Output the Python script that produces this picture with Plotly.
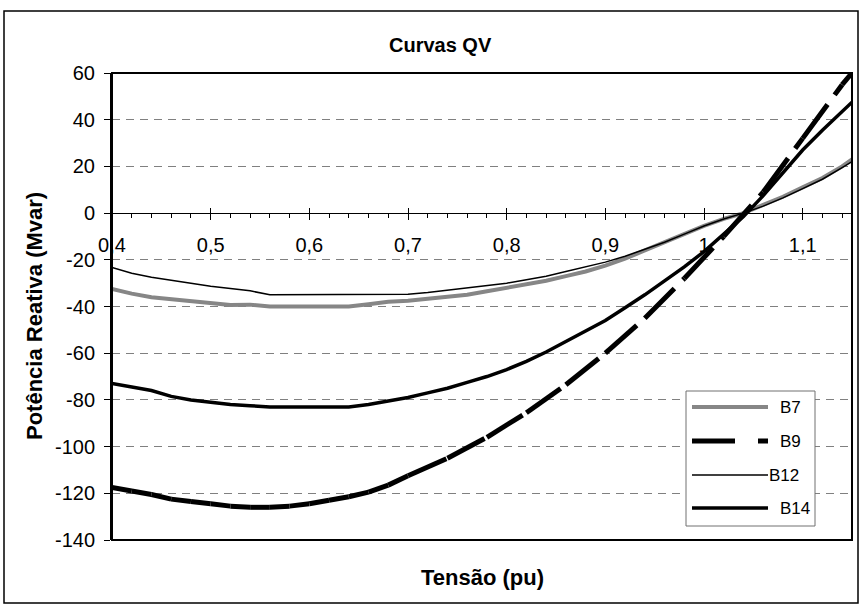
import plotly.graph_objects as go

# ---- data -------------------------------------------------------------
tensao = [0.40, 0.42, 0.44, 0.46, 0.48, 0.50, 0.52, 0.54, 0.56, 0.58,
          0.60, 0.62, 0.64, 0.66, 0.68, 0.70, 0.72, 0.74, 0.76, 0.78,
          0.80, 0.82, 0.84, 0.86, 0.88, 0.90, 0.92, 0.94, 0.96, 0.98,
          1.00, 1.02, 1.04, 1.06, 1.08, 1.10, 1.12, 1.14, 1.15]

b7 = [-32.5, -34.5, -36.0, -36.8, -37.6, -38.5, -39.4, -39.2, -40.0, -40.0,
      -40.0, -40.0, -40.0, -39.0, -38.0, -37.5, -36.8, -36.0, -35.0, -33.5,
      -32.0, -30.5, -29.0, -27.0, -25.0, -22.5, -19.5, -16.0, -12.5, -9.0,
      -5.5, -2.5, 0.0, 3.5, 7.0, 11.0, 15.0, 20.0, 23.0]

b12 = [-23.3, -25.8, -27.5, -28.9, -30.0, -31.3, -32.3, -33.3, -35.0, -35.0,
       -35.0, -35.0, -35.0, -35.0, -35.0, -34.8, -34.0, -33.0, -32.0, -31.0,
       -30.0, -28.5, -27.0, -25.0, -23.0, -21.0, -18.5, -15.5, -12.5, -9.0,
       -5.5, -2.5, 0.0, 3.0, 6.5, 10.5, 14.5, 19.5, 22.0]

b14 = [-73.0, -74.5, -76.0, -78.5, -80.0, -81.0, -82.0, -82.5, -83.0, -83.0,
       -83.0, -83.0, -83.0, -82.0, -80.5, -79.0, -77.0, -75.0, -72.5, -70.0,
       -67.0, -63.5, -59.5, -55.0, -50.5, -46.0, -40.5, -35.0, -29.0, -23.0,
       -16.5, -9.0, -1.5, 7.5, 17.5, 27.0, 35.5, 43.5, 47.5]

# B9 was sampled more sparsely on its steep branch
tensao_b9 = [0.40, 0.42, 0.44, 0.46, 0.48, 0.50, 0.52, 0.54, 0.56, 0.58,
             0.60, 0.62, 0.64, 0.66, 0.68, 0.70, 0.74, 0.78, 0.82, 0.86,
             0.90, 0.94, 0.98, 1.02, 1.06, 1.10, 1.14, 1.15]
b9 = [-117.5, -119.0, -120.5, -122.5, -123.5, -124.5, -125.5, -126.0, -126.0, -125.5,
      -124.5, -123.0, -121.5, -119.5, -116.5, -112.5, -105.0, -96.0, -85.5, -73.5,
      -60.0, -45.0, -28.0, -10.0, 9.0, 32.0, 55.0, 60.0]

series_names = ["B7", "B9", "B12", "B14"]
x_ticks = [0.4, 0.5, 0.6, 0.7, 0.8, 0.9, 1.0, 1.1]
x_tick_text = ["0,4", "0,5", "0,6", "0,7", "0,8", "0,9", "1", "1,1"]
y_ticks = [-140, -120, -100, -80, -60, -40, -20, 0, 20, 40, 60]
y_tick_text = ["-140", "-120", "-100", "-80", "-60", "-40", "-20", "0", "20", "40", "60"]

# ---- geometry helpers (pixels -> paper) --------------------------------
W, H = 862, 607
L, R, T, B = 112, 852, 73, 540
def px(xp):
    return (xp - L) / (R - L)
def py(yp):
    return (B - yp) / (B - T)

FONT = "Liberation Sans, Arial, sans-serif"

styles = {
    "B7": dict(color="#868686", width=4),
    "B9": dict(color="black", width=5),
    "B12": dict(color="black", width=1.5),
    "B14": dict(color="black", width=3.5),
}
B9_DASH_PLOT = "42px,12px"
B9_DASH_LEGEND = "43px,23px"

fig = go.Figure()

fig.add_trace(go.Scatter(x=tensao, y=b7, mode="lines", name="B7",
                         line=styles["B7"], showlegend=False))
# B9: each segment is stroked on its own, so the dash pattern restarts at
# every data point (as the original spreadsheet chart does)
for i in range(len(tensao_b9) - 1):
    fig.add_trace(go.Scatter(x=tensao_b9[i:i + 2], y=b9[i:i + 2], mode="lines",
                             name="B9", legendgroup="B9", showlegend=False,
                             line=dict(color="black", width=5, dash=B9_DASH_PLOT)))
fig.add_trace(go.Scatter(x=tensao, y=b12, mode="lines", name="B12",
                         line=styles["B12"], showlegend=False))
fig.add_trace(go.Scatter(x=tensao, y=b14, mode="lines", name="B14",
                         line=styles["B14"], showlegend=False))

# invisible trace for the overlaid x axis (inner halves of major ticks)
fig.add_trace(go.Scatter(x=[tensao[0]], y=[b7[0]], xaxis="x2", mode="none",
                         showlegend=False, hoverinfo="skip"))

fig.update_layout(
    width=W, height=H,
    margin=dict(l=L, r=W - R, t=T, b=H - B),
    paper_bgcolor="white", plot_bgcolor="white",
    font=dict(family=FONT, size=20, color="black"),
    xaxis=dict(range=[0.4, 1.15], anchor="free", position=0.7,
               tickvals=x_ticks, ticktext=x_tick_text,
               ticks="outside", ticklen=6, tickwidth=1,
               tickcolor="black", showline=True, linecolor="black", linewidth=1,
               showgrid=False, zeroline=False, ticklabelstandoff=8,
               tickfont=dict(size=20),
               minor=dict(dtick=0.02, ticks="outside", ticklen=4,
                          tickcolor="black", tickwidth=1, showgrid=False)),
    xaxis2=dict(range=[0.4, 1.15], anchor="free", position=0.7, overlaying="x",
                tickvals=x_ticks, ticks="inside", ticklen=5, tickwidth=1,
                tickcolor="black", showticklabels=False, showline=False,
                showgrid=False, zeroline=False),
    yaxis=dict(range=[-140, 60], tickvals=y_ticks, ticktext=y_tick_text,
               ticks="outside", ticklen=6,
               tickcolor="black", showline=True, linecolor="black", linewidth=2,
               showgrid=True, gridcolor="#808080", gridwidth=1, griddash="8px,6px",
               zeroline=False, ticklabelstandoff=5, tickfont=dict(size=20)),
    hovermode="closest",
)

shapes = []
# outer chart border
shapes.append(dict(type="rect", xref="paper", yref="paper",
                   x0=px(4), x1=px(858), y0=py(603), y1=py(11),
                   line=dict(color="black", width=1.5), layer="below"))
# plot area border
shapes.append(dict(type="rect", xref="paper", yref="paper",
                   x0=0, x1=1, y0=0, y1=1,
                   line=dict(color="black", width=2), layer="above"))

# legend box
shapes.append(dict(type="rect", xref="paper", yref="paper",
                   x0=px(686), x1=px(815), y0=py(526), y1=py(391),
                   fillcolor="white", line=dict(color="#707070", width=1),
                   layer="above"))
leg_y = [407, 441, 475, 508]
leg_text_x = [778, 778, 767, 778]
annotations = []
for name, yy, tx in zip(series_names, leg_y, leg_text_x):
    st = styles[name]
    ln = dict(color=st["color"], width=st["width"])
    if name == "B9":
        ln["dash"] = B9_DASH_LEGEND
    shapes.append(dict(type="line", xref="paper", yref="paper",
                       x0=px(692), x1=px(768), y0=py(yy), y1=py(yy),
                       line=ln, layer="above"))
    annotations.append(dict(text=name, xref="paper", yref="paper",
                            x=px(tx), y=py(yy), xanchor="left", yanchor="middle",
                            showarrow=False, font=dict(size=17, family=FONT)))

annotations.append(dict(text="<b>Curvas QV</b>", xref="paper", yref="paper",
                        x=px(440), y=py(45), xanchor="center", yanchor="middle",
                        showarrow=False, font=dict(size=20, family=FONT)))
annotations.append(dict(text="<b>Potência Reativa (Mvar)</b>", xref="paper",
                        yref="paper", x=px(34), y=py(316), textangle=-90,
                        xanchor="center", yanchor="middle", showarrow=False,
                        font=dict(size=22, family=FONT)))
annotations.append(dict(text="<b>Tensão (pu)</b>", xref="paper", yref="paper",
                        x=px(482), y=py(577), xanchor="center", yanchor="middle",
                        showarrow=False, font=dict(size=22, family=FONT)))

fig.update_layout(shapes=shapes, annotations=annotations)

fig.write_html("out.html")
